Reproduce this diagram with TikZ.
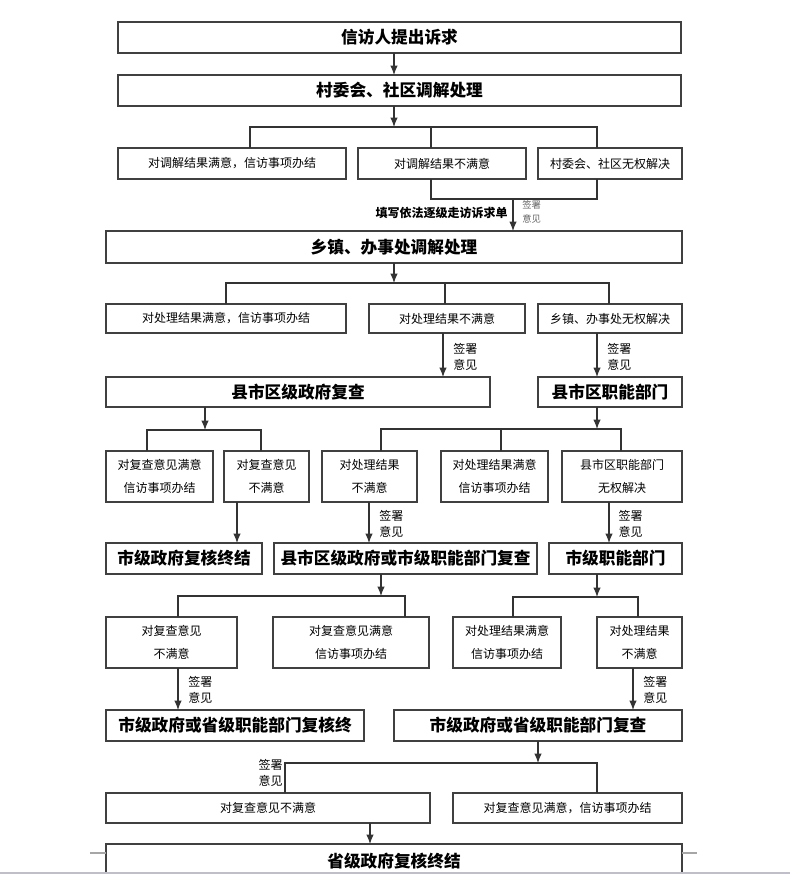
\documentclass[tikz,border=0pt]{standalone}
\usepackage{fontspec}
\setmainfont{Noto Sans CJK SC}
\usetikzlibrary{arrows.meta}

\tikzset{
  box/.style={draw=black!75, line width=1pt, inner sep=0pt, outer sep=0pt, align=center, fill=white},
  wh/.style 2 args={minimum width=#1*0.75pt, minimum height=#2*0.75pt},
  head/.style={box, font=\bfseries\fontsize{12.5}{15}\selectfont},
  note/.style={box, font=\fontsize{9}{17}\selectfont},
  line/.style={draw=black!80, line width=0.8pt},
  arr/.style={line, -{Latex[length=7pt,width=5.5pt]}},
  sign/.style={font=\fontsize{9}{12.5}\selectfont, align=left, inner sep=0pt, anchor=west},
}

\begin{document}
\begin{tikzpicture}[x=0.75pt, y=-0.75pt]
  \useasboundingbox (0,0) rectangle (790,874);
  \clip (0,0) rectangle (790,874);
  \fill[white] (0,0) rectangle (790,874);

  % junctions and arrow positions
  \coordinate (t1) at (394,127);  \coordinate (t1l) at (250,127);
  \coordinate (t1m) at (431,127); \coordinate (t1r) at (597,127);
  \coordinate (m1) at (513,199);  \coordinate (m1l) at (431,199);
  \coordinate (m1r) at (597,199);
  \coordinate (t2) at (394,283);  \coordinate (t2l) at (226,283);
  \coordinate (t2m) at (445,283); \coordinate (t2r) at (609,283);
  \coordinate (p1) at (443,357);  \coordinate (p2) at (597,357);
  \coordinate (t3) at (205,430);  \coordinate (t3l) at (147,430);
  \coordinate (t3r) at (261,430);
  \coordinate (t4) at (597,429);  \coordinate (t4l) at (381,429);
  \coordinate (t4m) at (501,429); \coordinate (t4r) at (621,429);
  \coordinate (p3) at (237,524);  \coordinate (p4) at (369,524);
  \coordinate (p5) at (609,524);
  \coordinate (t5) at (381,596);  \coordinate (t5l) at (178,596);
  \coordinate (t5r) at (405,596);
  \coordinate (t6) at (597,597);  \coordinate (t6l) at (513,597);
  \coordinate (t6r) at (638,597);
  \coordinate (p6) at (178,690);  \coordinate (p7) at (633,690);
  \coordinate (t7) at (538,763);  \coordinate (t7l) at (285,763);
  \coordinate (t7r) at (597,763);
  \coordinate (p8) at (370,834);

  % village level
  \node[head, wh={563}{31}] (ask) at (399.5,37.5) {信访人提出诉求};
  \node[head, wh={563}{31}] (cun) at (399.5,90.5) {村委会、社区调解处理};
  \node[note, wh={228}{31}] (cunOk) at (232,163.5) {对调解结果满意，信访事项办结};
  \node[note, wh={168}{31}] (cunNo) at (442,163.5) {对调解结果不满意};
  \node[note, wh={144}{31}] (cunNa) at (610,163.5) {村委会、社区无权解决};

  % town level
  \node[head, wh={576}{32}] (zhen) at (394,247) {乡镇、办事处调解处理};
  \node[note, wh={240}{29}] (zhenOk) at (226,318.5) {对处理结果满意，信访事项办结};
  \node[note, wh={156}{29}] (zhenNo) at (447,318.5) {对处理结果不满意};
  \node[note, wh={144}{29}] (zhenNa) at (610,318.5) {乡镇、办事处无权解决};

  % county level
  \node[head, wh={384}{30}] (xian) at (298,392) {县市区级政府复查};
  \node[head, wh={144}{30}] (xianBm) at (610,392) {县市区职能部门};
  \node[note, wh={107}{51}] (xianOk) at (159.5,476.5) {对复查意见满意\\信访事项办结};
  \node[note, wh={85}{51}] (xianNo) at (266.5,476.5) {对复查意见\\不满意};
  \node[note, wh={95}{51}] (bmNo) at (369.5,476.5) {对处理结果\\不满意};
  \node[note, wh={107}{51}] (bmOk) at (494.5,476.5) {对处理结果满意\\信访事项办结};
  \node[note, wh={120}{51}] (bmNa) at (622,476.5) {县市区职能部门\\无权解决};

  % city level
  \node[head, wh={156}{31}] (shiEnd) at (184,558.5) {市级政府复核终结};
  \node[head, wh={263}{31}] (xianRe) at (405.5,558.5) {县市区级政府或市级职能部门复查};
  \node[head, wh={133}{31}] (shiBm) at (615.5,558.5) {市级职能部门};
  \node[note, wh={131}{51}] (reNo) at (171.5,642.5) {对复查意见\\不满意};
  \node[note, wh={156}{51}] (reOk) at (351,642.5) {对复查意见满意\\信访事项办结};
  \node[note, wh={108}{51}] (shiOk) at (507,642.5) {对处理结果满意\\信访事项办结};
  \node[note, wh={85}{51}] (shiNo) at (639.5,642.5) {对处理结果\\不满意};

  % province level
  \node[head, wh={258}{31}] (shengEnd) at (235,725.5) {市级政府或省级职能部门复核终};
  \node[head, wh={288}{31}] (shengRe) at (538,725.5) {市级政府或省级职能部门复查};
  \node[note, wh={324}{30}] (lastNo) at (268,808) {对复查意见不满意};
  \node[note, wh={229}{30}] (lastOk) at (567.5,808) {对复查意见满意，信访事项办结};
  \node[head, wh={576}{34}] (final) at (394,861) {省级政府复核终结};

  % connectors, top part
  \draw[arr] (ask.south -| t1) -- (cun.north -| t1);
  \draw[arr] (cun.south -| t1) -- (t1);
  \draw[line] (cunOk.north -| t1l) |- (t1r) -- (cunNa.north -| t1r);
  \draw[line] (t1m) -- (cunNo.north -| t1m);
  \draw[line] (cunNo.south -| m1l) |- (m1r) -- (cunNa.south -| m1r);
  \draw[arr] (m1) -- (zhen.north -| m1);
  \node[font=\bfseries\fontsize{9}{10}\selectfont, anchor=east, inner sep=0pt] (form) at (508,213) {填写依法逐级走访诉求单};
  \node[sign, font=\fontsize{7}{11}\selectfont, text=black!60] (s0) at (522,212) {签署\\意见};

  \draw[arr] (zhen.south -| t2) -- (t2);
  \draw[line] (zhenOk.north -| t2l) |- (t2r) -- (zhenNa.north -| t2r);
  \draw[line] (t2m) -- (zhenNo.north -| t2m);
  \draw[arr] (zhenNo.south -| p1) -- (xian.north -| p1);
  \node[sign, right=7.5pt] (s1) at (p1) {签署\\意见};
  \draw[arr] (zhenNa.south -| p2) -- (xianBm.north -| p2);
  \node[sign, right=7.5pt] (s2) at (p2) {签署\\意见};

  % connectors, middle part
  \draw[arr] (xian.south -| t3) -- (t3);
  \draw[line] (xianOk.north -| t3l) |- (t3r) -- (xianNo.north -| t3r);
  \draw[arr] (xianBm.south -| t4) -- (t4);
  \draw[line] (bmNo.north -| t4l) |- (t4r) -- (bmNa.north -| t4r);
  \draw[line] (t4m) -- (bmOk.north -| t4m);
  \draw[arr] (xianNo.south -| p3) -- (shiEnd.north -| p3);
  \draw[arr] (bmNo.south -| p4) -- (xianRe.north -| p4);
  \node[sign, right=7.5pt] (s3) at (p4) {签署\\意见};
  \draw[arr] (bmNa.south -| p5) -- (shiBm.north -| p5);
  \node[sign, right=7pt] (s4) at (p5) {签署\\意见};

  \draw[arr] (xianRe.south -| t5) -- (t5);
  \draw[line] (reNo.north -| t5l) |- (t5r) -- (reOk.north -| t5r);
  \draw[arr] (shiBm.south -| t6) -- (t6);
  \draw[line] (shiOk.north -| t6l) |- (t6r) -- (shiNo.north -| t6r);
  \draw[arr] (reNo.south -| p6) -- (shengEnd.north -| p6);
  \node[sign, right=7.5pt] (s5) at (p6) {签署\\意见};
  \draw[arr] (shiNo.south -| p7) -- (shengRe.north -| p7);
  \node[sign, right=7.5pt] (s6) at (p7) {签署\\意见};

  % connectors, bottom part
  \draw[arr] (shengRe.south -| t7) -- (t7);
  \draw[line] (lastNo.north -| t7l) |- (t7r) -- (lastOk.north -| t7r);
  \node[sign, anchor=east] (s7) at (283,773) {签署\\意见};
  \draw[arr] (lastNo.south -| p8) -- (final.north -| p8);

  % page edge marks
  \draw[black!35, line width=0.8pt] (90,853) -- (106,853) (682,853) -- (697,853);
  \draw[blue!15!black!25, line width=0.8pt] (0,873) -- (790,873);
\end{tikzpicture}
\end{document}
